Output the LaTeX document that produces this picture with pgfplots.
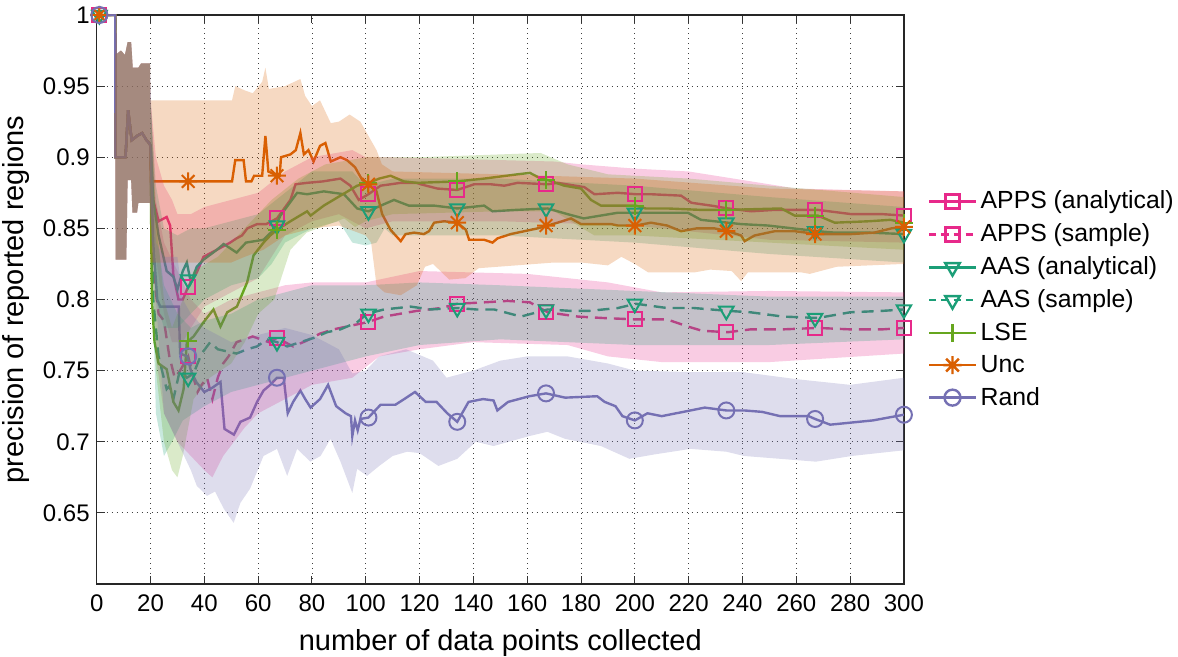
\documentclass[border=0pt]{standalone}
\usepackage{fontspec}
\setmainfont{Liberation Sans}
\usepackage{pgfplots}
\pgfplotsset{compat=1.18}

\definecolor{cAPPS}{HTML}{E7298A}
\definecolor{cAAS}{HTML}{1B9E77}
\definecolor{cLSE}{HTML}{66A61E}
\definecolor{cUnc}{HTML}{D95F02}
\definecolor{cRand}{HTML}{7570B3}

% matlab style '*' : a plus and a cross
\pgfdeclareplotmark{mstar}{%
  \pgfpathmoveto{\pgfqpoint{-\pgfplotmarksize}{0pt}}\pgfpathlineto{\pgfqpoint{\pgfplotmarksize}{0pt}}%
  \pgfpathmoveto{\pgfqpoint{0pt}{-\pgfplotmarksize}}\pgfpathlineto{\pgfqpoint{0pt}{\pgfplotmarksize}}%
  \pgfpathmoveto{\pgfqpoint{-.707\pgfplotmarksize}{-.707\pgfplotmarksize}}\pgfpathlineto{\pgfqpoint{.707\pgfplotmarksize}{.707\pgfplotmarksize}}%
  \pgfpathmoveto{\pgfqpoint{-.707\pgfplotmarksize}{.707\pgfplotmarksize}}\pgfpathlineto{\pgfqpoint{.707\pgfplotmarksize}{-.707\pgfplotmarksize}}%
  \pgfusepathqstroke}

\pgfplotsset{
  ln/.style={line width=1.2pt, forget plot},
  dsh/.style={dash pattern=on 6pt off 3.5pt},
  mk/.style={only marks, line width=1pt, forget plot},
  band/.style={fill=#1, fill opacity=0.24, draw=none, forget plot},
}

\begin{document}
\begin{tikzpicture}
\begin{axis}[
    name=ax,
    scale only axis,
    width=403.6pt, height=284.5pt,
    xmin=0, xmax=300, ymin=0.6, ymax=1,
    xtick={0,20,...,300},
    ytick={0.65,0.7,0.75,0.8,0.85,0.9,0.95,1},
    yticklabels={0.65,0.7,0.75,0.8,0.85,0.9,0.95,1},
    grid=major,
    major grid style={dash pattern=on 0.5pt off 2pt, line width=0.4pt, black!75},
    tick align=inside, major tick length=4pt,
    tick style={black!80, line width=0.5pt},
    axis line style={black!85, line width=0.6pt},
    /pgf/number format/assume math mode=true,
    tick label style={font=\fontsize{12}{14}\selectfont},
    xticklabel style={yshift=-2pt},
    label style={font=\fontsize{14.5}{17}\selectfont},
    xlabel style={yshift=-2pt},
    xlabel={number of data points collected},
    ylabel={precision of reported regions},
    legend style={draw=none, fill=none, at={(1,0.5)}, anchor=west, xshift=12pt,
      font=\fontsize{12.4}{14}\selectfont, row sep=2pt, inner sep=0pt},
    legend cell align=left,
    legend image code/.code={\draw[#1, mark repeat=2, mark phase=2]
      plot coordinates {(0pt,0pt) (11.5pt,0pt) (23pt,0pt)};},
]

% ---------------- mean curves ----------------
% APPS (analytical)
\addplot[cAPPS, ln] coordinates {
 (1,1) (6.9,1) (7,0.9) (10.7,0.9) (11.7,0.933) (13,0.912) (15,0.915) (16.9,0.917) (18.5,0.912) (19.5,0.910)
 (20,0.908) (21,0.87) (23,0.855) (26,0.858) (27.3,0.852) (28.5,0.817) (30.4,0.80) (32,0.80) (34,0.809)
 (37.2,0.819) (39.7,0.830) (44.7,0.835) (49.6,0.840) (52,0.843) (54,0.845) (56,0.850) (59.6,0.853)
 (63,0.853) (67,0.857) (72,0.870) (73.9,0.881) (78.2,0.882) (84,0.883) (90.6,0.885) (94.3,0.880)
 (97.4,0.870) (101,0.874) (105.5,0.880) (113,0.882) (119,0.882) (120.4,0.881) (126.6,0.878) (134,0.877)
 (140.3,0.881) (146.5,0.881) (151.5,0.880) (156.4,0.882) (167.6,0.881) (171.3,0.882) (181.2,0.879)
 (185,0.874) (193.7,0.875) (200.4,0.874) (206,0.874) (217.2,0.873) (221,0.868) (228.4,0.866)
 (234.6,0.864) (243.3,0.862) (252,0.863) (268,0.863) (280.5,0.860) (292,0.860) (300,0.859)};
\addplot[cAPPS, mk, mark=square, mark size=3.5pt] coordinates {
 (1,1) (34,0.809) (67,0.857) (101,0.874) (134,0.877) (167,0.881) (200,0.874) (234,0.864) (267,0.863) (300,0.859)};

% APPS (sample)
\addplot[cAPPS, ln, dsh] coordinates {
 (1,1) (6.9,1) (7,0.9) (10.7,0.9) (11.7,0.933) (13,0.912) (15,0.915) (16.9,0.917) (18.5,0.912) (19.5,0.910)
 (20,0.908) (21,0.82) (23,0.79) (25,0.785) (27,0.76) (29,0.745) (31,0.75) (34,0.76) (36,0.745)
 (37.5,0.735) (39,0.74) (41,0.745) (43,0.73) (45,0.745) (47,0.755) (49,0.76) (52,0.770) (55,0.772)
 (58,0.774) (61,0.772) (64,0.770) (67,0.773) (73,0.767) (78,0.771) (83,0.776) (88,0.779) (93,0.781)
 (100.5,0.784) (106.8,0.788) (119,0.792) (128,0.794) (134,0.797) (144,0.798) (152.7,0.799) (161,0.798)
 (167.6,0.791) (178.8,0.788) (188,0.787) (200.4,0.786) (212,0.786) (219.7,0.781) (225,0.778)
 (234.6,0.777) (243,0.779) (255,0.779) (268,0.780) (280,0.779) (292,0.779) (300,0.780)};
\addplot[cAPPS, mk, mark=square, mark size=3.5pt] coordinates {
 (1,1) (34,0.760) (67,0.773) (101,0.784) (134,0.797) (167,0.791) (200,0.786) (234,0.777) (267,0.780) (300,0.780)};

% AAS (analytical)
\addplot[cAAS, ln] coordinates {
 (1,1) (6.9,1) (7,0.9) (10.7,0.9) (11.7,0.933) (13,0.912) (15,0.915) (16.9,0.917) (18.5,0.912) (19.5,0.910)
 (20,0.908) (21,0.87) (23,0.845) (26,0.82) (28.5,0.816) (30,0.807) (32,0.82) (33.5,0.826) (35,0.812)
 (37.2,0.823) (39.7,0.828) (44.7,0.835) (47.2,0.839) (52,0.833) (55.5,0.840) (62,0.842) (65.8,0.849)
 (68.3,0.859) (74.5,0.875) (78.2,0.874) (84.4,0.876) (91.9,0.874) (96.8,0.864) (101,0.862)
 (106.8,0.867) (110.5,0.870) (116,0.866) (125.4,0.866) (134,0.864) (144,0.866) (147.1,0.862)
 (156,0.863) (167.6,0.864) (175,0.860) (181,0.857) (193.7,0.861) (200.4,0.861) (219.7,0.861)
 (224.6,0.856) (234.6,0.854) (239.5,0.853) (249.5,0.852) (268,0.848) (274.3,0.847) (287,0.847) (300,0.846)};
\addplot[cAAS, mk, mark=triangle, mark size=4.2pt, mark options={rotate=180}] coordinates {
 (1,1) (34,0.814) (67,0.852) (101,0.862) (134,0.864) (167,0.864) (200,0.861) (234,0.854) (267,0.848) (300,0.846)};

% AAS (sample)
\addplot[cAAS, ln, dsh] coordinates {
 (1,1) (6.9,1) (7,0.9) (10.7,0.9) (11.7,0.933) (13,0.912) (15,0.915) (16.9,0.917) (18.5,0.912) (19.5,0.910)
 (20,0.908) (21,0.80) (23,0.76) (24.8,0.746) (26,0.737) (27,0.739) (28.5,0.73) (31,0.751) (33.5,0.745)
 (36,0.748) (39,0.762) (42.2,0.770) (45,0.765) (49.6,0.763) (52,0.762) (55.9,0.765) (59.6,0.767)
 (63.3,0.772) (67,0.770) (70.8,0.767) (75.7,0.770) (80.7,0.773) (85.6,0.777) (90.6,0.779) (96.8,0.784)
 (100.5,0.790) (106.8,0.793) (116.7,0.795) (124,0.793) (134,0.794) (141,0.793) (147.7,0.793)
 (157.7,0.788) (167.6,0.793) (176,0.792) (183,0.792) (193.7,0.794) (200.4,0.797) (212,0.794)
 (222,0.794) (234.6,0.792) (243,0.791) (255,0.788) (268,0.787) (280,0.791) (292,0.792) (300,0.793)};
\addplot[cAAS, mk, mark=triangle, mark size=4.2pt, mark options={rotate=180}] coordinates {
 (1,1) (34,0.745) (67,0.770) (101,0.790) (134,0.794) (167,0.793) (200,0.797) (234,0.792) (267,0.787) (300,0.793)};

% LSE
\addplot[cLSE, ln] coordinates {
 (1,1) (6.9,1) (7,0.9) (10.7,0.9) (11.7,0.933) (13,0.912) (15,0.915) (16.9,0.917) (18.5,0.912) (19.5,0.910)
 (20,0.908) (20.5,0.80) (21.5,0.77) (23,0.755) (26,0.751) (28.5,0.728) (30.4,0.722) (32.3,0.737)
 (33.5,0.770) (36,0.774) (39.7,0.784) (43.4,0.793) (46,0.781) (48.5,0.791) (52.1,0.795) (55.9,0.812)
 (58.3,0.831) (62,0.840) (64.5,0.845) (67,0.849) (72,0.855) (78.2,0.862) (79.5,0.859) (84.4,0.866)
 (90.6,0.873) (96.8,0.880) (101.2,0.882) (105,0.885) (109.2,0.887) (114.2,0.883) (119,0.882)
 (134,0.883) (144,0.885) (156.4,0.888) (161,0.889) (165.1,0.885) (167.6,0.884) (173.8,0.880)
 (180,0.878) (183.7,0.870) (187.4,0.866) (200.4,0.866) (204,0.864) (212,0.864) (224.6,0.863)
 (234.6,0.863) (254.4,0.864) (259.4,0.859) (268,0.859) (274.3,0.854) (287,0.855) (295,0.856) (300,0.854)};
\addplot[cLSE, mk, mark=+, mark size=4.5pt] coordinates {
 (1,1) (34,0.771) (67,0.849) (101,0.882) (134,0.883) (167,0.884) (200,0.866) (234,0.863) (267,0.859) (300,0.854)};

% Unc
\addplot[cUnc, ln] coordinates {
 (1,1) (6.9,1) (7,0.9) (10.7,0.9) (11.7,0.933) (13,0.912) (15,0.915) (16.9,0.917) (18.5,0.912) (19.5,0.910)
 (20,0.908) (20.1,0.883) (50.3,0.883) (51.5,0.898) (54.6,0.898) (55.5,0.883) (57.5,0.883) (58.5,0.887)
 (61.5,0.887) (62.7,0.915) (63.8,0.89) (67,0.887) (68,0.887) (68.5,0.9) (72,0.902) (74,0.905)
 (75.7,0.917) (77,0.902) (78.7,0.905) (80.6,0.897) (83,0.908) (85,0.910) (87,0.897) (90.6,0.900)
 (93,0.898) (96,0.893) (98.7,0.884) (101,0.881) (104,0.876) (106.1,0.860) (109.2,0.849) (113,0.841)
 (114.8,0.846) (118,0.847) (121.6,0.846) (123.5,0.848) (125.4,0.854) (129.1,0.855) (134,0.854)
 (137.2,0.849) (138.4,0.842) (144,0.842) (147.1,0.840) (149,0.843) (153.9,0.846) (158.9,0.848)
 (163.9,0.850) (167.6,0.852) (171.3,0.854) (176.3,0.857) (180,0.853) (191.2,0.853) (193.7,0.852)
 (200.4,0.852) (206,0.854) (212,0.852) (217.2,0.848) (223,0.850) (229.6,0.850) (234.6,0.848)
 (239.5,0.845) (240.8,0.841) (244.5,0.845) (252,0.848) (259.4,0.848) (268,0.846) (280.5,0.846)
 (289,0.847) (295.4,0.850) (300,0.851)};
\addplot[cUnc, mk, mark=mstar, mark size=4.5pt] coordinates {
 (1,1) (34,0.883) (67,0.887) (101,0.881) (134,0.854) (167,0.852) (200,0.852) (234,0.848) (267,0.846) (300,0.851)};

% Rand
\addplot[cRand, ln] coordinates {
 (1,1) (6.9,1) (7,0.9) (10.7,0.9) (11.7,0.933) (13,0.912) (15,0.915) (16.9,0.917) (18.5,0.912) (19.5,0.910)
 (20,0.908) (21,0.84) (22.5,0.80) (23.6,0.795) (30.5,0.795) (31,0.762) (33.7,0.760) (35,0.75)
 (37,0.742) (40,0.735) (43,0.738) (46,0.742) (47.5,0.709) (51,0.705) (53.4,0.714) (57,0.717)
 (59.6,0.728) (62,0.736) (64.5,0.740) (67,0.745) (69.5,0.745) (71,0.72) (73,0.728) (75.7,0.736)
 (77.5,0.73) (79.5,0.724) (83,0.73) (86,0.740) (89,0.725) (92.5,0.72) (94.5,0.718) (95,0.704)
 (96,0.715) (97,0.708) (98,0.716) (101,0.717) (105.5,0.726) (111,0.726) (114.3,0.730) (118.3,0.735)
 (122.3,0.728) (126.3,0.728) (130.3,0.720) (134,0.714) (138.2,0.728) (143.6,0.730) (147.5,0.729)
 (148.9,0.722) (152.9,0.728) (160.8,0.732) (167,0.734) (174.1,0.731) (186,0.732) (188.8,0.728)
 (192.8,0.725) (195.4,0.718) (200,0.715) (204.7,0.720) (210,0.718) (220.7,0.722) (226,0.724)
 (234,0.722) (240.6,0.722) (247.3,0.721) (254,0.718) (264.6,0.718) (267,0.716) (272.6,0.712)
 (288.5,0.715) (300,0.719)};
\addplot[cRand, mk, mark=o, mark size=4pt] coordinates {
 (1,1) (34,0.760) (67,0.745) (101,0.717) (134,0.714) (167,0.734) (200,0.715) (234,0.722) (267,0.716) (300,0.719)};

% ---------------- spread bands (upper edge, then lower edge back) ----------------
\addplot[band=cAPPS] coordinates {
 (1,1) (6.9,1) (7,0.972) (9,0.975) (10.5,0.972) (11.5,0.981) (12.8,0.981) (13.4,0.963) (15.5,0.963) (16.5,0.966) (19.8,0.966)
 (20,0.94) (22,0.90) (25,0.88) (28,0.87) (30,0.86) (35,0.86) (40,0.865) (50,0.87) (60,0.875) (70,0.89)
 (80,0.9) (95,0.905) (100,0.9) (110,0.9) (150,0.898) (170,0.897) (180,0.895) (200,0.892) (220,0.89)
 (240,0.884) (260,0.878) (300,0.876)
 (300,0.84) (250,0.842) (200,0.852) (150,0.855) (110,0.855) (100,0.85) (90,0.86) (80,0.855) (70,0.845)
 (65,0.83) (60,0.815) (50,0.805) (40,0.795) (35,0.78) (32,0.77) (28,0.77) (25,0.79) (22,0.83) (20,0.86)
 (19.8,0.868) (15.5,0.868) (15,0.861) (13.3,0.861) (12.8,0.884) (11.5,0.884) (11,0.828) (7,0.828) (6.9,1) (1,1)};
\addplot[band=cAPPS] coordinates {
 (1,1) (6.9,1) (7,0.972) (9,0.975) (10.5,0.972) (11.5,0.981) (12.8,0.981) (13.4,0.963) (15.5,0.963) (16.5,0.966) (19.8,0.966)
 (20,0.94) (22,0.87) (25,0.84) (30,0.82) (35,0.80) (40,0.79) (50,0.80) (60,0.805) (70,0.81) (80,0.812)
 (100,0.812) (120,0.82) (160,0.818) (190,0.812) (210,0.805) (250,0.806) (300,0.805)
 (300,0.762) (250,0.756) (210,0.756) (190,0.76) (175,0.768) (140,0.77) (120,0.765) (105,0.76) (95,0.745)
 (80,0.74) (70,0.73) (60,0.72) (55,0.71) (47,0.69) (43,0.675) (40,0.68) (35,0.69) (30,0.70) (25,0.72)
 (22,0.76) (20,0.86)
 (19.8,0.868) (15.5,0.868) (15,0.861) (13.3,0.861) (12.8,0.884) (11.5,0.884) (11,0.828) (7,0.828) (6.9,1) (1,1)};
\addplot[band=cAAS] coordinates {
 (1,1) (6.9,1) (7,0.972) (9,0.975) (10.5,0.972) (11.5,0.981) (12.8,0.981) (13.4,0.963) (15.5,0.963) (16.5,0.966) (19.8,0.966)
 (20,0.94) (22,0.88) (25,0.85) (30,0.845) (35,0.85) (40,0.85) (50,0.855) (60,0.86) (70,0.875) (80,0.89)
 (95,0.89) (100,0.88) (110,0.885) (150,0.885) (200,0.88) (250,0.872) (300,0.865)
 (300,0.826) (250,0.832) (200,0.84) (150,0.845) (110,0.845) (107,0.85) (104,0.84) (100,0.838) (95,0.84)
 (90,0.855) (80,0.85) (70,0.84) (65,0.825) (60,0.815) (50,0.81) (40,0.80) (35,0.79) (30,0.78) (25,0.78)
 (22,0.80) (20,0.86)
 (19.8,0.868) (15.5,0.868) (15,0.861) (13.3,0.861) (12.8,0.884) (11.5,0.884) (11,0.828) (7,0.828) (6.9,1) (1,1)};
\addplot[band=cAAS] coordinates {
 (20,0.94) (22,0.85) (25,0.81) (30,0.79) (35,0.78) (40,0.785) (50,0.79) (60,0.80) (70,0.805) (80,0.81)
 (100,0.81) (120,0.812) (150,0.81) (200,0.806) (250,0.802) (300,0.802)
 (300,0.772) (250,0.768) (200,0.768) (150,0.772) (120,0.768) (100,0.76) (80,0.75) (70,0.745) (60,0.74)
 (50,0.735) (40,0.725) (32,0.715) (28,0.70) (25,0.69) (22,0.72) (20,0.86)};
\addplot[band=cLSE] coordinates {
 (1,1) (6.9,1) (7,0.972) (9,0.975) (10.5,0.972) (11.5,0.981) (12.8,0.981) (13.4,0.963) (15.5,0.963) (16.5,0.966) (19.8,0.966)
 (20,0.94) (22,0.86) (25,0.80) (28,0.78) (32,0.80) (36,0.82) (45,0.83) (55,0.85) (65,0.87) (75,0.885)
 (85,0.895) (100,0.9) (120,0.9) (150,0.902) (165,0.903) (175,0.895) (190,0.888) (220,0.885) (250,0.88)
 (300,0.872)
 (300,0.835) (250,0.84) (200,0.845) (185,0.845) (170,0.862) (150,0.862) (110,0.86) (100,0.855) (96,0.851)
 (92,0.857) (85,0.852) (78,0.847) (72,0.835) (66,0.80) (60,0.79) (55,0.77) (50,0.755) (42,0.745) (36,0.73)
 (32,0.69) (30,0.675) (28,0.68) (25,0.70) (22,0.75) (20,0.86)
 (19.8,0.868) (15.5,0.868) (15,0.861) (13.3,0.861) (12.8,0.884) (11.5,0.884) (11,0.828) (7,0.828) (6.9,1) (1,1)};
\addplot[band=cUnc] coordinates {
 (1,1) (6.9,1) (7,0.972) (9,0.975) (10.5,0.972) (11.5,0.981) (12.8,0.981) (13.4,0.963) (15.5,0.963) (16.5,0.966) (19.8,0.966)
 (20,0.94) (50.3,0.94) (51.5,0.95) (55,0.947) (58,0.945) (61.5,0.953) (62.7,0.963) (64,0.948) (70,0.95)
 (75.7,0.955) (77.5,0.943) (80,0.936) (83,0.94) (87,0.924) (90,0.925) (94,0.93) (98,0.925) (101,0.915)
 (104,0.905) (106,0.895) (110,0.89) (150,0.888) (200,0.885) (250,0.878) (300,0.876)
 (300,0.825) (275,0.823) (265,0.818) (262,0.819) (242,0.819) (239.5,0.813) (236,0.82) (228,0.821)
 (222,0.819) (205,0.819) (200,0.825) (195,0.83) (190,0.824) (180,0.826) (170,0.826) (156,0.824)
 (142,0.822) (137,0.815) (131,0.814) (125,0.825) (122,0.823) (119,0.81) (113,0.803) (107,0.805)
 (104,0.81) (102,0.84) (100,0.845) (90,0.852) (80,0.85) (70,0.845) (62,0.835) (55,0.83) (50,0.826)
 (20,0.826)
 (19.8,0.868) (15.5,0.868) (15,0.861) (13.3,0.861) (12.8,0.884) (11.5,0.884) (11,0.828) (7,0.828) (6.9,1) (1,1)};
\addplot[band=cRand] coordinates {
 (1,1) (6.9,1) (7,0.972) (9,0.975) (10.5,0.972) (11.5,0.981) (12.8,0.981) (13.4,0.963) (15.5,0.963) (16.5,0.966) (19.8,0.966)
 (20,0.95) (22,0.84) (25,0.83) (30,0.83) (32,0.80) (35,0.79) (40,0.78) (50,0.77) (60,0.775) (70,0.78)
 (80,0.775) (90,0.765) (95,0.748) (100,0.75) (105,0.76) (115,0.765) (125,0.757) (130,0.745) (140,0.75)
 (150,0.757) (160,0.76) (175,0.76) (190,0.755) (200,0.75) (220,0.749) (240,0.749) (260,0.744)
 (280,0.740) (300,0.745)
 (300,0.694) (280.6,0.690) (267.3,0.686) (254,0.688) (240.6,0.690) (234,0.693) (220.7,0.695) (207,0.691)
 (198,0.688) (187.4,0.697) (174.1,0.702) (167.5,0.707) (160.8,0.704) (147.5,0.697) (140.9,0.700)
 (134,0.688) (127,0.683) (120,0.692) (115.4,0.693) (110,0.690) (105,0.683) (100.5,0.676) (96.8,0.681)
 (95,0.664) (90.6,0.686) (86.9,0.702) (83.2,0.690) (79.4,0.686) (74.5,0.695) (70.8,0.676) (67,0.695)
 (62,0.690) (57,0.667) (53.4,0.657) (50.9,0.643) (47.2,0.653) (44,0.665) (41,0.662) (37.2,0.669)
 (35,0.68) (30,0.70) (25,0.72) (22,0.80) (20,0.86)
 (19.8,0.868) (15.5,0.868) (15,0.861) (13.3,0.861) (12.8,0.884) (11.5,0.884) (11,0.828) (7,0.828) (6.9,1) (1,1)};

% ---------------- legend ----------------
\addlegendimage{cAPPS, line width=1.2pt, mark=square, mark size=3.5pt, mark options={solid}}
\addlegendentry{APPS (analytical)}
\addlegendimage{cAPPS, line width=1.2pt, dash pattern=on 3.5pt off 2.5pt, mark=square, mark size=3.5pt, mark options={solid}}
\addlegendentry{APPS (sample)}
\addlegendimage{cAAS, line width=1.2pt, mark=triangle, mark size=4.2pt, mark options={solid, rotate=180}}
\addlegendentry{AAS (analytical)}
\addlegendimage{cAAS, line width=1.2pt, dash pattern=on 3.5pt off 2.5pt, mark=triangle, mark size=4.2pt, mark options={solid, rotate=180}}
\addlegendentry{AAS (sample)}
\addlegendimage{cLSE, line width=1.2pt, mark=+, mark size=4.5pt}
\addlegendentry{LSE}
\addlegendimage{cUnc, line width=1.2pt, mark=mstar, mark size=4.5pt}
\addlegendentry{Unc}
\addlegendimage{cRand, line width=1.2pt, mark=o, mark size=4pt}
\addlegendentry{Rand}
\end{axis}
\pgfresetboundingbox
\path (ax.south west) ++(-48.35pt,-36.5pt) rectangle ++(589pt,328.5pt);
\end{tikzpicture}
\end{document}
